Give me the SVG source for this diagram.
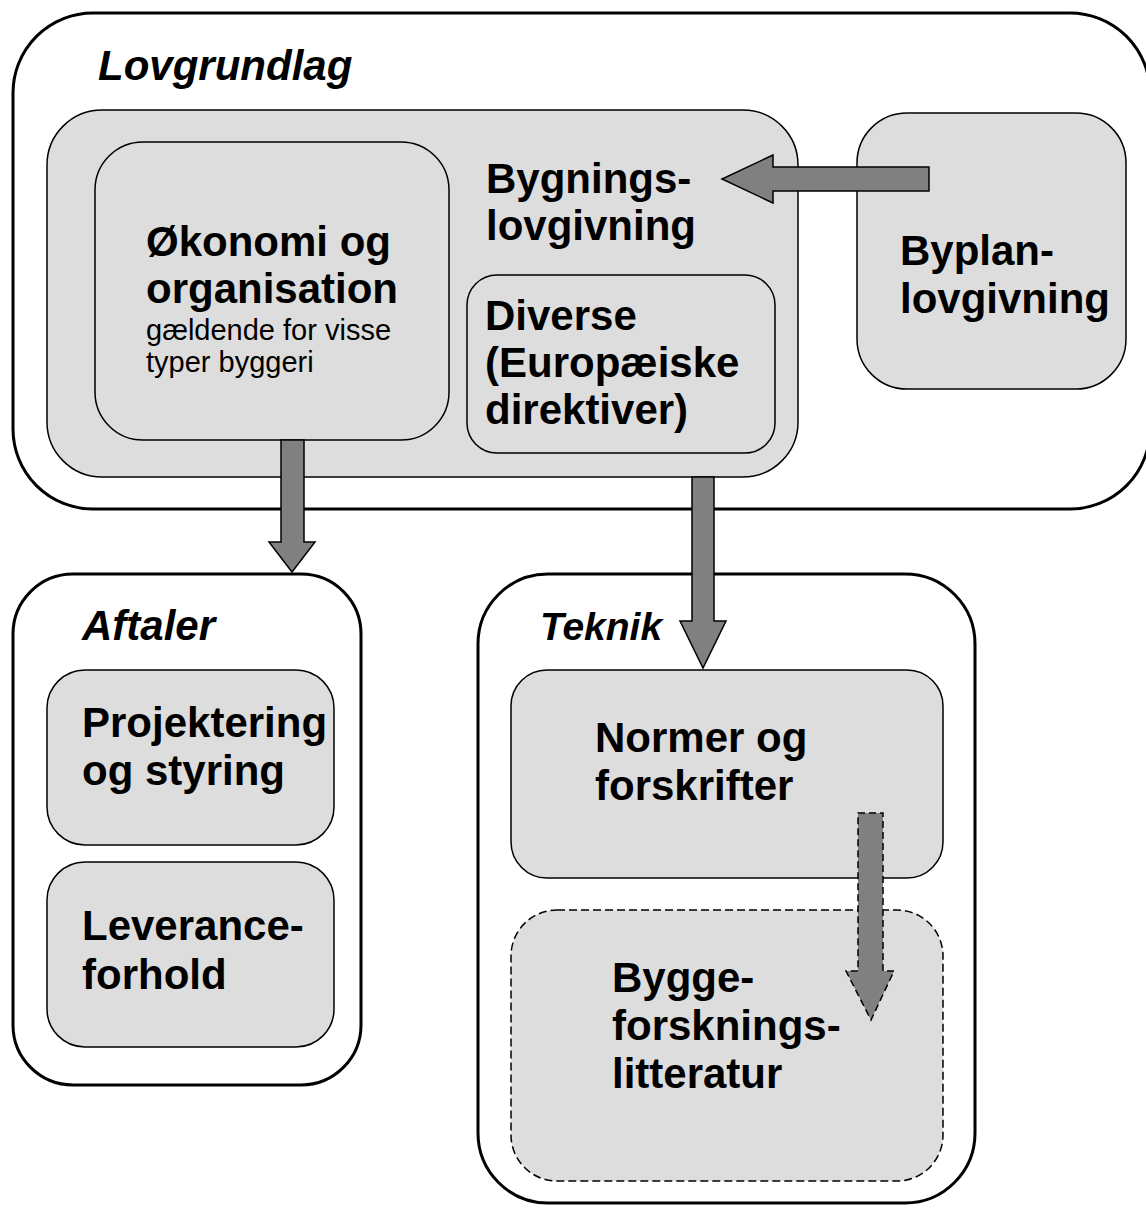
<svg xmlns="http://www.w3.org/2000/svg" width="1146" height="1209" viewBox="0 0 1146 1209">
<style>
.outer{fill:#ffffff;stroke:#000;stroke-width:3}
.box{fill:#dddddd;stroke:#000;stroke-width:1.5}
.dash{fill:#dddddd;stroke:#000;stroke-width:1.5;stroke-dasharray:8 4}
.arrow{fill:#808080;stroke:#000;stroke-width:1.5;stroke-linejoin:miter}
.arrowd{fill:#808080;stroke:#000;stroke-width:1.5;stroke-dasharray:7 4}
text{font-family:"Liberation Sans",Arial,sans-serif;fill:#000}
.t{font-size:42px;font-weight:bold}
.h{font-size:42px;font-weight:bold;font-style:italic}
.s{font-size:29px}
</style>
<rect width="1146" height="1209" fill="#ffffff"/>
<g id="lovgrundlag">
<rect class="outer" x="13" y="13" width="1137" height="496" rx="80"/>
<text class="h" x="98" y="80">Lovgrundlag</text>
</g>
<g id="bygningslovgivning">
<rect class="box" x="47" y="110" width="751" height="367" rx="55"/>
<text class="t" x="486" y="193">Bygnings-</text>
<text class="t" x="486" y="240">lovgivning</text>
</g>
<g id="okonomi">
<rect class="box" x="95" y="142" width="354" height="298" rx="48"/>
<text class="t" x="146" y="256">Økonomi og</text>
<text class="t" x="146" y="303">organisation</text>
<text class="s" x="146" y="340">gældende for visse</text>
<text class="s" x="146" y="372">typer byggeri</text>
</g>
<g id="diverse">
<rect class="box" x="467" y="275" width="308" height="178" rx="30"/>
<text class="t" x="485" y="330">Diverse</text>
<text class="t" x="485" y="377">(Europæiske</text>
<text class="t" x="485" y="424">direktiver)</text>
</g>
<g id="byplan">
<rect class="box" x="857" y="113" width="269" height="276" rx="50"/>
<text class="t" x="900" y="265">Byplan-</text>
<text class="t" x="900" y="313">lovgivning</text>
</g>
<g id="aftaler">
<rect class="outer" x="13" y="574" width="348" height="511" rx="60"/>
<text class="h" x="82" y="640">Aftaler</text>
</g>
<g id="projektering">
<rect class="box" x="47" y="670" width="287" height="175" rx="38"/>
<text class="t" x="82" y="737">Projektering</text>
<text class="t" x="82" y="785">og styring</text>
</g>
<g id="leverance">
<rect class="box" x="47" y="862" width="287" height="185" rx="38"/>
<text class="t" x="82" y="940">Leverance-</text>
<text class="t" x="82" y="989">forhold</text>
</g>
<g id="teknik">
<rect class="outer" x="478" y="574" width="497" height="629" rx="70"/>
<text class="h" x="540" y="640" style="font-size:39px">Teknik</text>
</g>
<g id="normer">
<rect class="box" x="511" y="670" width="432" height="208" rx="36"/>
<text class="t" x="595" y="752">Normer og</text>
<text class="t" x="595" y="800">forskrifter</text>
</g>
<g id="byggeforskning">
<rect class="dash" x="511" y="910" width="432" height="271" rx="46"/>
<text class="t" x="612" y="992">Bygge-</text>
<text class="t" x="612" y="1040">forsknings-</text>
<text class="t" x="612" y="1088">litteratur</text>
</g>
<g id="connectors">
<polygon class="arrow" points="929,167 773,167 773,155 722,179 773,203 773,191 929,191"/>
<polygon class="arrow" points="281,440 304,440 304,542 315,542 292,572 269,542 281,542"/>
<polygon class="arrow" points="692,477 714,477 714,621 726,621 703,668 680,621 692,621"/>
<polygon class="arrowd" points="858,813 883,813 883,971 894,971 871,1020 846,971 858,971"/>
</g>
</svg>
